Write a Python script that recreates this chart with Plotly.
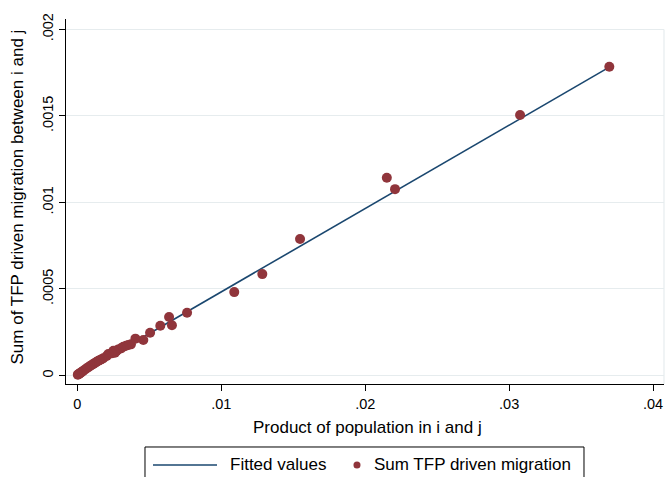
import plotly.graph_objects as go

# ---- data ----
pop_product = [0.03696, 0.03076, 0.02150, 0.02207, 0.01547, 0.01285, 0.01090,
               0.00762, 0.00657, 0.00637, 0.00576, 0.00505, 0.00458, 0.00403,
               0.00372, 0.00354, 0.00338, 0.00319, 0.00303, 0.00284, 0.00273,
               0.00261, 0.00250, 0.00238, 0.00215, 0.00204, 0.00180, 0.00168,
               0.00157, 0.00146, 0.00134, 0.00122, 0.00111, 0.00099, 0.00088,
               0.00076, 0.00065, 0.00053, 0.00041, 0.00032, 0.00023, 0.00014,
               0.00006, 0.00003]
tfp_migration = [0.001784, 0.001505, 0.001143, 0.001077, 0.000789, 0.000586, 0.000482,
                 0.000363, 0.000290, 0.000338, 0.000288, 0.000247, 0.000205, 0.000213,
                 0.000180, 0.000176, 0.000172, 0.000166, 0.000157, 0.000151, 0.000143,
                 0.000132, 0.000143, 0.000128, 0.000124, 0.000113, 0.0000993, 0.0000940,
                 0.0000895, 0.0000850, 0.0000797, 0.0000730, 0.0000664, 0.0000610, 0.0000549,
                 0.0000480, 0.0000416, 0.0000350, 0.0000277, 0.0000220, 0.0000162, 0.0000110,
                 0.0000069, 0.0000040]

fitted_x = [0.00003, 0.03696]
fitted_y = [0.0000030, 0.001782]

x_ticks = [0, 0.01, 0.02, 0.03, 0.04]
x_ticklabels = ["0", ".01", ".02", ".03", ".04"]
y_ticks = [0, 0.0005, 0.001, 0.0015, 0.002]
y_ticklabels = ["0", ".0005", ".001", ".0015", ".002"]

x_title = "Product of population in i and j"
y_title = "Sum of TFP driven migration between i and j"
legend_labels = ["Fitted values", "Sum TFP driven migration"]

NAVY = "#1A476F"
MAROON = "#90353B"
FONT = "Liberation Sans, Arial, sans-serif"

fig = go.Figure()

fig.add_trace(go.Scatter(x=fitted_x, y=fitted_y, mode="lines", name=legend_labels[0],
                         line=dict(color=NAVY, width=1.6),
                         showlegend=False, hoverinfo="skip"))
fig.add_trace(go.Scatter(x=pop_product, y=tfp_migration, mode="markers",
                         name=legend_labels[1],
                         marker=dict(color=MAROON, size=10, line=dict(width=0)),
                         showlegend=False))

# faint right border of the plot region
fig.add_shape(type="line", xref="paper", yref="y", x0=1, x1=1, y0=-0.00005, y1=0.002,
              line=dict(color="#E6ECEE", width=1.2), layer="below")

# ---- legend (drawn box, keys and labels, below the plot) ----
LEG_Y = -0.2219
fig.add_shape(type="rect", xref="paper", yref="paper",
              x0=0.1321, x1=0.8662, y0=-0.2900, y1=-0.1726,
              line=dict(color="black", width=1), fillcolor="rgba(0,0,0,0)")
fig.add_shape(type="line", xref="paper", yref="paper",
              x0=0.1455, x1=0.2525, y0=LEG_Y, y1=LEG_Y,
              line=dict(color=NAVY, width=1.6))
fig.add_shape(type="circle", xref="paper", yref="paper",
              x0=0.4866 - 0.0059, x1=0.4866 + 0.0059,
              y0=LEG_Y - 0.0096, y1=LEG_Y + 0.0096,
              line=dict(width=0), fillcolor=MAROON)
fig.add_annotation(text=legend_labels[0], xref="paper", yref="paper", x=0.2709, y=LEG_Y,
                   xanchor="left", yanchor="middle", showarrow=False, font=dict(size=17))
fig.add_annotation(text=legend_labels[1], xref="paper", yref="paper", x=0.5117, y=LEG_Y,
                   xanchor="left", yanchor="middle", showarrow=False, font=dict(size=17))

fig.add_annotation(text=x_title, xref="paper", yref="paper", x=0.504, y=-0.1205,
                   xanchor="center", yanchor="middle", showarrow=False,
                   font=dict(size=17))
fig.add_annotation(text=y_title, xref="paper", yref="paper", x=-0.0803, y=0.5137,
                   xanchor="center", yanchor="middle", showarrow=False, textangle=-90,
                   font=dict(size=17))

fig.update_layout(
    width=666, height=477,
    margin=dict(l=66, r=2, t=19, b=93),
    paper_bgcolor="white", plot_bgcolor="white",
    showlegend=False,
    font=dict(family=FONT, size=15, color="black"),
    xaxis=dict(range=[-0.000792, 0.04076], tickvals=x_ticks, ticktext=x_ticklabels,
               showgrid=False, zeroline=False, showline=True, linecolor="black",
               linewidth=1.2, ticks="outside", ticklen=6, tickcolor="black",
               tickfont=dict(size=14.5), automargin=False),
    yaxis=dict(range=[-0.000049, 0.00206], tickvals=y_ticks, ticktext=y_ticklabels,
               tickangle=-90, showgrid=True, gridcolor="#E6ECEE", gridwidth=1.2,
               zeroline=False, showline=True, linecolor="black", linewidth=1.2,
               ticks="outside", ticklen=6, tickcolor="black", tickfont=dict(size=14.5),
               automargin=False),
)

fig.write_html("out.html", config={"displayModeBar": False},
               post_script="document.body.style.margin='0';")
